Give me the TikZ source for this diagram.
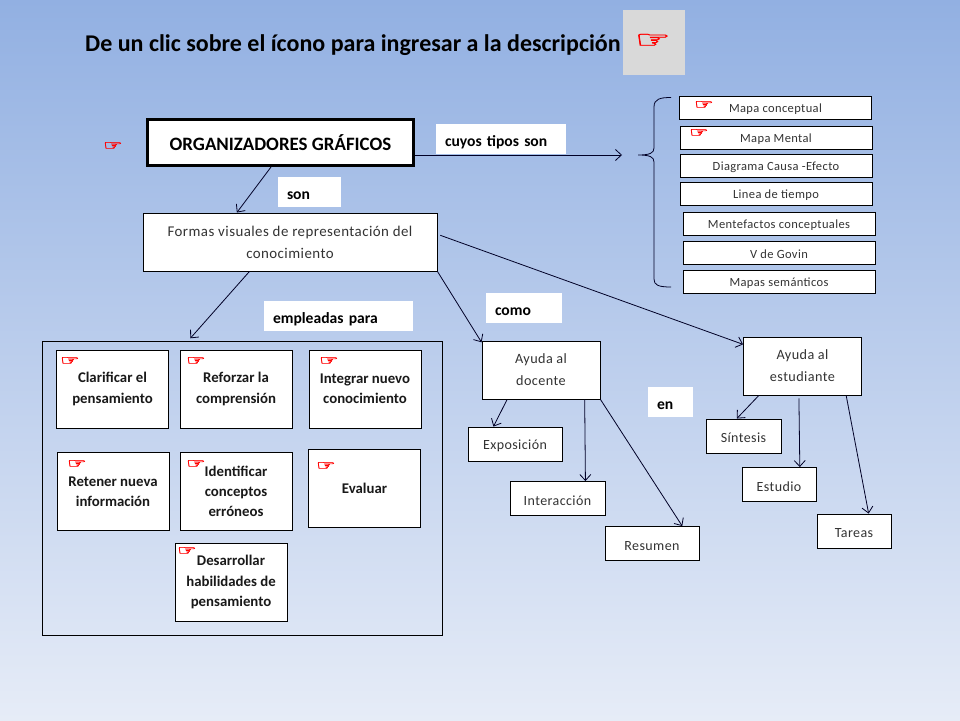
\documentclass[tikz,border=0pt]{standalone}
\usepackage{fontspec}
\usepackage{tikz}
\usetikzlibrary{arrows.meta}
\setmainfont{Carlito}
\newfontfamily\spaced[LetterSpace=3]{Carlito}
\newfontfamily\handfont[FakeBold=1.6]{DejaVu Sans}
\definecolor{skytop}{HTML}{92B0E2}
\definecolor{skybot}{HTML}{E6ECF7}
\definecolor{inkgray}{HTML}{333333}
\definecolor{cardgray}{HTML}{D9D9D9}
\tikzset{
  box/.style={draw=black, line width=0.9pt, fill=white, align=center, inner sep=0pt},
  cardbox/.style={box, minimum width=112, minimum height=78, font=\fontsize{14.8}{20.3}\selectfont\bfseries, text=black!90},
  cardlow/.style={cardbox, execute at begin node={\\[-16.3pt]}},
  listbox/.style={box, minimum width=192, minimum height=23, font=\spaced\fontsize{12.5}{13}\selectfont, text=inkgray, execute at begin node={\rule{0pt}{11.5pt}}},
  leafbox/.style={box, minimum height=34, font=\spaced\fontsize{14}{16}\selectfont, text=inkgray, execute at begin node={\rule{0pt}{14pt}}},
  helpbox/.style={box, minimum width=118, minimum height=58, font=\spaced\fontsize{14.2}{22}\selectfont, text=inkgray, execute at begin node={\\[-18pt]}},
  tagbox/.style={fill=white, inner xsep=9, inner ysep=0, minimum height=30, text height=14, text depth=0, align=left, font=\fontsize{15.6}{16}\selectfont\bfseries},
  hand/.style={text=red, inner sep=0pt, yscale=0.62, transform shape, font=\handfont\fontsize{22}{22}\selectfont},
  link/.style={draw=black!85!blue, line width=0.8pt, -{Straight Barb[length=6pt,width=11pt]}}
}
\begin{document}
\begin{tikzpicture}[x=1pt, y=-1pt]
  \useasboundingbox (0, 0) rectangle (960, 720);
  \shade [top color=skytop, bottom color=skybot] (0, 0) rectangle (960, 720);
  % heading
  \node (titulo) [anchor=west, inner sep=0pt, font=\fontsize{24}{28}\selectfont\bfseries] at (85, 45)
    {De un clic sobre el ícono para ingresar a la descripción};
  \node (iconbox) [fill=cardgray, minimum width=62, minimum height=65, inner sep=0pt] at (654, 42.5) {};
  % main branch
  \node (org) [box, line width=2.6pt, minimum width=266, minimum height=46, font=\fontsize{18.9}{22}\selectfont\bfseries] at (280.5, 142.5) {ORGANIZADORES GRÁFICOS};
  \node (formas) [box, minimum width=294, minimum height=58, font=\spaced\fontsize{14.9}{22}\selectfont, text=inkgray, execute at begin node={\\[-20pt]}] at (290, 242)
    {Formas visuales de representación del\\conocimiento};
  \node (marco) [draw=black, line width=0.9pt, minimum width=400, minimum height=294, inner sep=0pt] at (242, 488) {};
  \node (tipos) [tagbox, text width=112] at (501, 139) {cuyos tipos son};
  \node (son) [tagbox, text width=45] at (309.5, 192) {son};
  \node (empleadas) [tagbox, text width=131] at (338.5, 316) {empleadas para};
  \node (como) [tagbox, text width=58] at (524, 308) {como};
  \node (en) [tagbox, text width=27] at (670.5, 402) {en};
  % cards
  \node (clarificar) [cardlow] at (112.5, 389) {Clarificar el\\pensamiento};
  \node (reforzar) [cardlow] at (236, 389) {Reforzar la\\comprensión};
  \node (integrar) [cardlow] at (365, 389) {Integrar nuevo\\conocimiento};
  \node (retener) [cardbox] at (113, 491.5) {Retener nueva\\información};
  \node (identificar) [cardbox] at (236, 491.5) {Identificar\\conceptos\\erróneos};
  \node (evaluar) [cardbox] at (364.5, 488.5) {Evaluar};
  \node (desarrollar) [cardlow] at (231, 582) {Desarrollar\\habilidades de\\pensamiento};
  % list on the right
  \foreach \nam/\px/\py/\txt in {l1/775.5/108/Mapa conceptual, l2/776/137.5/Mapa Mental,
      l3/776/166/Diagrama Causa -Efecto, l4/776/194/Linea de tiempo,
      l5/779/223.5/Mentefactos conceptuales, l6/779/252.5/V de Govin, l7/779/281.5/Mapas semánticos} {
    \node (\nam) [listbox] at (\px, \py) {\txt};
  }
  \coordinate (flecha) at (622, 155);
  \draw [line width=0.8pt, draw=black!85!blue] (671, 97.5) .. controls (660, 97.5) and (654, 99) .. (654, 107) -- (654, 148)
    .. controls (654, 153) and (650, 155) .. (638, 155)
    .. controls (650, 155) and (654, 157) .. (654, 162) -- (654, 279)
    .. controls (654, 285) and (658, 287) .. (671, 287);
  % helpers and leaves
  \node (docente) [helpbox] at (541, 370) {Ayuda al\\docente};
  \node (estudiante) [helpbox] at (802.5, 366) {Ayuda al\\estudiante};
  \node (exposicion) [leafbox, minimum width=94] at (515, 444) {Exposición};
  \node (interaccion) [leafbox, minimum width=95] at (557.5, 498.5) {Interacción};
  \node (resumen) [leafbox, minimum width=94] at (652, 543.5) {Resumen};
  \node (sintesis) [leafbox, minimum width=75] at (743.5, 436) {Síntesis};
  \node (estudio) [leafbox, minimum width=74] at (779, 484.5) {Estudio};
  \node (tareas) [leafbox, minimum width=74] at (854, 531) {Tareas};
  % connectors
  \draw [link] (org.east |- flecha) -- (flecha);
  \draw [link] (org.-111) -- (formas.151);
  \draw [link, shorten >=3pt] (formas.-144) -- (marco.110);
  \draw [link] (formas.south east) -- (docente.155);
  \draw [link, shorten <=3pt] (formas.3) -- (estudiante.160);
  \draw [link] (docente.-139) -- (exposicion.141);
  \draw [link] (docente.-34) -- (interaccion.32);
  \draw [link] (docente.south east) -- (resumen.30);
  \draw [link] (estudiante.-146) -- (sintesis.111);
  \draw [link, shorten <=3pt] (estudiante.-97) -- (estudio.40);
  \draw [link] (estudiante.-34) -- (tareas.50);
  % hands
  \node (handtitulo) [hand, font=\handfont\fontsize{40}{40}\selectfont] at (653, 41) {☞};
  \foreach \nam/\px/\py in {horg/113/146, hl1/704/105, hl2/699/133, hclar/70/361, hrefo/196/361,
      hinte/329/361, hrete/77/464, hiden/196/464, heval/326/466, hdesa/187/551} {
    \node (\nam) [hand] at (\px, \py) {☞};
  }
\end{tikzpicture}
\end{document}
